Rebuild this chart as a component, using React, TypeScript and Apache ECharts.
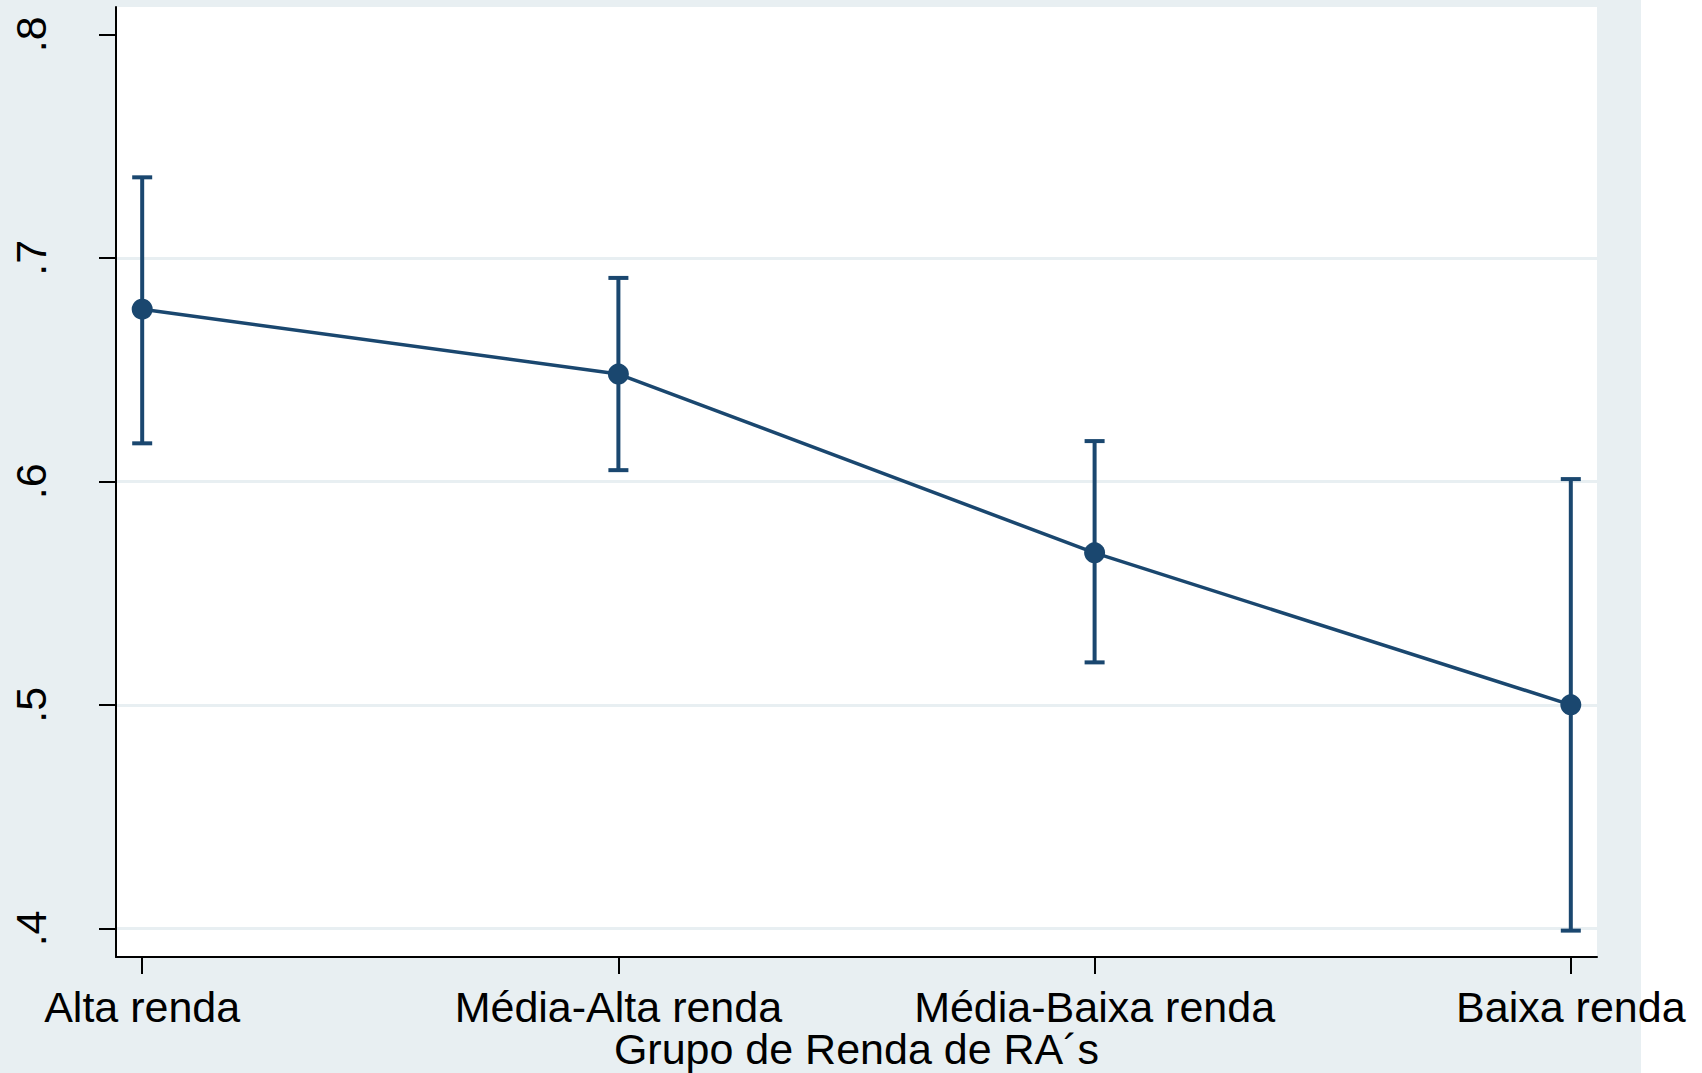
import React, { useEffect, useRef } from 'react';
import * as echarts from 'echarts';

const categories = ['Alta renda', 'Média-Alta renda', 'Média-Baixa renda', 'Baixa renda'];
const estimates = [0.677, 0.648, 0.568, 0.5];
const ciLower = [0.617, 0.605, 0.519, 0.399];
const ciUpper = [0.736, 0.691, 0.618, 0.601];
const yTicks = [0.4, 0.5, 0.6, 0.7, 0.8];
const gridValues = [0.4, 0.5, 0.6, 0.7];
const xTicks = [0, 1, 2, 3];
const xAxisTitle = 'Grupo de Renda de RA´s';

export default function App() {
  const ref = useRef<HTMLDivElement>(null);
  useEffect(() => {
    document.body.style.margin = '0';
    const chart = echarts.init(ref.current as HTMLDivElement, null, { renderer: 'svg' });
    const navy = '#1a476f';
    const bg = '#e8eff2';
    const font = '"Liberation Sans", Arial, sans-serif';
    chart.setOption({
      animation: false,
      backgroundColor: 'transparent',
      grid: {
        left: 116, right: 105, top: 7, bottom: 116,
        show: true, backgroundColor: '#ffffff', borderWidth: 0,
        containLabel: false, outerBoundsMode: 'none',
      },
      xAxis: {
        type: 'value', min: -0.055, max: 3.055,
        axisLine: { show: true, onZero: false, lineStyle: { color: '#000', width: 2 } },
        axisTick: { show: true, customValues: xTicks, length: 17, lineStyle: { color: '#000', width: 2 } },
        axisLabel: {
          customValues: xTicks,
          formatter: (v: number) => categories[Math.round(v)],
          fontSize: 43, lineHeight: 43, color: '#000', fontFamily: font, margin: 28,
        },
        splitLine: { show: false },
        name: xAxisTitle, nameLocation: 'middle', nameGap: 70, nameMoveOverlap: false,
        nameTextStyle: { fontSize: 43, lineHeight: 43, color: '#000', fontFamily: font },
      },
      yAxis: {
        type: 'value', min: 0.3872, max: 0.8122,
        axisLine: { show: true, onZero: false, lineStyle: { color: '#000', width: 2 } },
        axisTick: { show: true, customValues: yTicks, length: 17, lineStyle: { color: '#000', width: 2 } },
        axisLabel: {
          customValues: yTicks, rotate: 90,
          formatter: (v: number) => '.' + Math.round(v * 10),
          fontSize: 43, lineHeight: 43, color: '#000', fontFamily: font, margin: 64,
        },
        splitLine: { show: false },
      },
      series: [
        {
          type: 'custom',
          z: 1,
          data: categories.map((_, i) => [i, ciLower[i], ciUpper[i]]),
          encode: { x: 0, y: [1, 2] },
          renderItem: (params: any, api: any) => {
            const x = api.value(0);
            const lo = api.coord([x, api.value(1)]);
            const hi = api.coord([x, api.value(2)]);
            const hw = 10;
            const style = { stroke: navy, lineWidth: 4, fill: 'none' };
            return {
              type: 'group',
              children: [
                { type: 'line', shape: { x1: lo[0], y1: lo[1], x2: hi[0], y2: hi[1] }, style },
                { type: 'line', shape: { x1: lo[0] - hw, y1: lo[1], x2: lo[0] + hw, y2: lo[1] }, style },
                { type: 'line', shape: { x1: hi[0] - hw, y1: hi[1], x2: hi[0] + hw, y2: hi[1] }, style },
              ],
            };
          },
          markLine: {
            silent: true,
            symbol: 'none',
            label: { show: false },
            lineStyle: { color: bg, width: 3, type: 'solid' },
            data: gridValues.map((v) => ({ yAxis: v })),
            z: 0,
          },
        },
        {
          type: 'line',
          z: 3,
          data: categories.map((_, i) => [i, estimates[i]]),
          symbol: 'circle',
          symbolSize: 21,
          lineStyle: { color: navy, width: 3.5 },
          itemStyle: { color: navy },
        },
      ],
    });
    return () => chart.dispose();
  }, []);
  return (
    <div
      style={{
        position: 'absolute', left: 0, top: 0, width: 1702, height: 1073,
        background: 'linear-gradient(to right, #e8eff2 0px, #e8eff2 1641px, #ffffff 1641px)',
      }}
    >
      <div ref={ref} style={{ width: 1702, height: 1073 }} />
    </div>
  );
}
